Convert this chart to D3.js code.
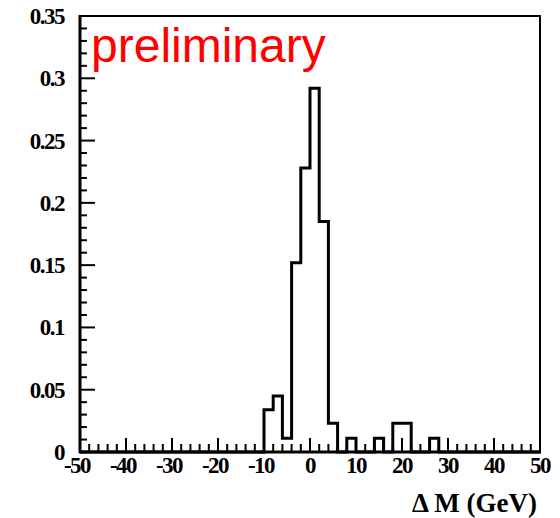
<!DOCTYPE html>
<html><head><meta charset="utf-8">
<script src="https://cdn.jsdelivr.net/npm/d3@7"></script>
<style>html,body{margin:0;padding:0;background:#fff;} svg{display:block;}</style>
</head><body>
<script>
// ---- data ----
const binWidth = 2;                       // GeV
const xDomain = [-50, 50];
const yDomain = [0, 0.35];
// bin contents, bins of 2 GeV from -50 to 50 (50 bins)
const binValues = [
  0,0,0,0,0,            // -50 .. -40
  0,0,0,0,0,            // -40 .. -30
  0,0,0,0,0,            // -30 .. -20
  0,0,0,0,0,            // -20 .. -10
  0.034,0.045,0.011,0.152,0.228, // -10 .. 0
  0.292,0.185,0.023,0,0.011,     //   0 .. 10
  0,0,0.011,0,0.023,             //  10 .. 20
  0.023,0,0,0.011,0,             //  20 .. 30
  0,0,0,0,0,            //  30 .. 40
  0,0,0,0,0             //  40 .. 50
];
const xTickLabels = ["-50","-40","-30","-20","-10","0","10","20","30","40","50"];
const yTickLabels = ["0","0.05","0.1","0.15","0.2","0.25","0.3","0.35"];
const xTitle = "\u0394 M (GeV)";
const stampText = "preliminary";

// ---- layout ----
const W = 560, H = 518;
const L = 80, R = 540, T = 16, B = 452;
const svg = d3.select("body").append("svg").attr("width", W).attr("height", H);
const x = d3.scaleLinear().domain(xDomain).range([L, R]);
const y = d3.scaleLinear().domain(yDomain).range([B, T]);

// histogram step outline
const pts = binValues.map((v, i) => [xDomain[0] + i * binWidth, v]);
pts.push([xDomain[1], binValues[binValues.length - 1]]);
const line = d3.line().x(d => x(d[0])).y(d => y(d[1])).curve(d3.curveStepAfter);
svg.append("path").attr("d", line(pts)).attr("fill", "none")
  .attr("stroke", "#000").attr("stroke-width", 3).attr("stroke-linejoin", "miter");

// frame
svg.append("rect").attr("x", L).attr("y", T).attr("width", R - L).attr("height", B - T)
  .attr("fill", "none").attr("stroke", "#000").attr("stroke-width", 2);

// y axis ticks
const yMinor = d3.range(0, 0.3501, 0.01);
svg.append("g").selectAll("line").data(yMinor).join("line")
  .attr("x1", L).attr("x2", (d, i) => L + (i % 5 === 0 ? 15 : 7))
  .attr("y1", d => y(d)).attr("y2", d => y(d))
  .attr("stroke", "#000").attr("stroke-width", 2);
svg.append("line").attr("x1", L).attr("x2", L).attr("y1", T - 1).attr("y2", B + 1)
  .attr("stroke", "#000").attr("stroke-width", 3);

// x axis ticks
const xMinor = d3.range(-50, 50.01, 2);
svg.append("g").selectAll("line").data(xMinor).join("line")
  .attr("x1", d => x(d)).attr("x2", d => x(d))
  .attr("y1", B).attr("y2", (d, i) => B - (i % 5 === 0 ? 14 : 8))
  .attr("stroke", "#000").attr("stroke-width", 2);
svg.append("line").attr("x1", L - 1).attr("x2", R + 1).attr("y1", B).attr("y2", B)
  .attr("stroke", "#000").attr("stroke-width", 3);

const labelFont = "'Liberation Serif', 'Times New Roman', serif";
// y labels
svg.append("g").selectAll("text").data(yTickLabels).join("text")
  .attr("x", 64).attr("y", (d) => y(+d) + 8)
  .attr("text-anchor", "end")
  .attr("font-family", labelFont).attr("font-weight", "bold").attr("font-size", 23)
  .attr("letter-spacing", -1.5)
  .text(d => d);
// x labels
svg.append("g").selectAll("text").data(xTickLabels).join("text")
  .attr("x", d => x(+d) - (d.startsWith("-") ? 3 : 0)).attr("y", 473)
  .attr("text-anchor", "middle")
  .attr("font-family", labelFont).attr("font-weight", "bold").attr("font-size", 23)
  .attr("letter-spacing", -1.5)
  .text(d => d);
// x title
svg.append("text").attr("x", 537).attr("y", 512).attr("text-anchor", "end")
  .attr("font-family", labelFont).attr("font-weight", "bold").attr("font-size", 27)
  .text(xTitle);

// stamp
svg.append("text").attr("x", 91).attr("y", 62)
  .attr("font-family", "'Liberation Sans', Arial, sans-serif").attr("font-size", 48)
  .attr("fill", "#ff0000").text(stampText);
</script>
</body></html>
